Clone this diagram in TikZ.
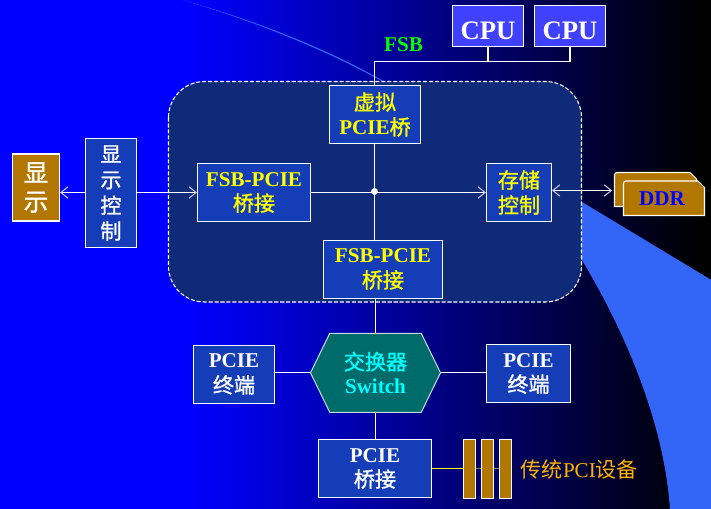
\documentclass[tikz,border=0pt]{standalone}
\usepackage{fontspec}
\setmainfont{Liberation Serif}
\newfontfamily\cjk[BoldFont={Noto Sans CJK SC},BoldFeatures={FakeBold=1.2}]{Noto Sans CJK SC}
\usetikzlibrary{arrows.meta,shapes.symbols}
\definecolor{boxblue}{RGB}{21,61,184}
\definecolor{corebox}{RGB}{15,42,120}
\definecolor{cpublue}{RGB}{64,64,255}
\definecolor{wing}{RGB}{51,102,246}
\definecolor{gold}{RGB}{178,119,0}
\definecolor{teal2}{RGB}{0,107,107}
\definecolor{pcitext}{RGB}{255,180,0}
\definecolor{olive2}{RGB}{125,125,60}
\definecolor{swcyan}{RGB}{0,255,255}
\definecolor{ylw}{RGB}{255,255,0}
\definecolor{tipgrey}{RGB}{205,205,235}
\tikzset{
  sz/.style 2 args={minimum width=#1*0.02cm,minimum height=#2*0.02cm},
  bx/.style={draw=white,line width=0.6pt,fill=boxblue,align=center,inner sep=0pt,
    execute at begin node={\rule{0pt}{15.5pt}},
    font=\bfseries\fontsize{12}{14.2}\selectfont},
  ybx/.style={bx,text=ylw},
  wbx/.style={bx,text=white},
  cpubx/.style={bx,fill=cpublue,text=white,execute at begin node={},font=\bfseries\fontsize{15.2}{18}\selectfont},
  goldbx/.style={draw=white,line width=0.6pt,fill=gold,inner sep=0pt},
  wire/.style={draw=white,line width=0.6pt}
}
\begin{document}
\begin{tikzpicture}[x=0.02cm,y=-0.02cm,>={Straight Barb[length=4pt,width=6.4pt,color=tipgrey]}]
 	\useasboundingbox (0,0) rectangle (711,508);
 	\fill[blue] (-2,-2) rectangle (190,510);
 	\shade[left color=blue,right color=black] (190,-2) rectangle (700,510);
 	\fill[black] (700,-2) rectangle (713,510);
 	\fill[wing] (183,0) .. controls (260,22) and (330,50) .. (385,82) -- (582,202)
 		.. controls (625,228) and (670,255) .. (713,281) -- (713,510) -- (670,510)
 		.. controls (665,430) and (630,340) .. (582,260) -- (385,83)
 		.. controls (330,52) and (260,23) .. (183,0) -- cycle;
 	\draw[white,line width=0.6pt,dash pattern=on 2.3pt off 1.1pt,fill=corebox,rounded corners=0.72cm]
 		(168.5,81.5) rectangle (581.5,302);
 	% cpu side
 	\node[cpubx,sz={71}{41}] (cpu1) at (488,26){CPU};
 	\node[cpubx,sz={71}{41}] (cpu2) at (570,26){CPU};
 	\node[text=green,font=\bfseries\fontsize{12}{14}\selectfont] (fsb) at (403.5,45){FSB};
 	\node[ybx,sz={91}{58}] (vbr) at (375,114.5){{\cjk 虚拟}\\PCIE{\cjk 桥}};
 	\node[ybx,sz={113}{58}] (fsbl) at (254,192.5){FSB-PCIE\\{\cjk 桥接}};
 	\node[ybx,sz={65}{58}] (mem) at (519,192.5){{\cjk 存储}\\{\cjk 控制}};
 	\node[ybx,sz={119}{58}] (fsbd) at (383,269.3){FSB-PCIE\\{\cjk 桥接}};
 	\node[wbx,sz={51}{109},font=\bfseries\fontsize{12}{14.6}\selectfont] (dctl) at (111,193){{\cjk 显}\\{\cjk 示}\\{\cjk 控}\\{\cjk 制}};
 	\node[goldbx,sz={47}{67},text=white,align=center,font=\bfseries\fontsize{14}{16.4}\selectfont,
 		execute at begin node={\rule{0pt}{17pt}}] (dsp) at (36,187.5){{\cjk 显}\\{\cjk 示}};
 	\node[circle,fill=white,inner sep=0pt,minimum size=0.14cm] (hub) at (374.5,191.5){};
 	% switch
 	\node[shape=signal,signal to=east and west,signal pointer angle=128,draw=white!75!teal2,line width=0.6pt,
 		fill=teal2,text=swcyan,align=center,inner sep=0pt,sz={130}{79},
 		font=\bfseries\fontsize{12}{13.6}\selectfont] (sw) at (375.5,372.8){{\cjk 交换器}\\Switch};
 	\node[wbx,sz={81}{58}] (tl) at (234,374.3){PCIE\\{\cjk 终端}};
 	\node[wbx,sz={84}{58}] (tr) at (528.5,373.5){PCIE\\{\cjk 终端}};
 	\node[wbx,sz={113}{58}] (pb) at (375,468.5){PCIE\\{\cjk 桥接}};
 	% legacy slots
 	\node[inner sep=0pt] (s1) at (469.5,468.5){};
 	\node[inner sep=0pt] (s3) at (505.5,468.5){};
 	\draw[ylw,line width=0.6pt] (pb.east) -- (s1);
 	\draw[olive2,line width=0.6pt] (s1) -- (s3);
 	\node[goldbx,sz={12.4}{59}] (slot1) at (469.5,468.8){};
 	\node[goldbx,sz={12.4}{59}] (slot2) at (487.4,468.8){};
 	\node[goldbx,sz={12.4}{59}] (slot3) at (505.5,468.8){};
 	\node[text=pcitext,anchor=west,inner sep=0pt,font=\fontsize{12}{14}\selectfont] (pci) at (520.5,469){{\cjk 传统}PCI{\cjk 设备}};
 	% ddr
 	\fill[gold,draw=white,line width=0.6pt] (617,172.5) -- (690,172.5) -- (696.5,179) -- (696.5,206.5) -- (614.5,206.5) -- (614.5,175) .. controls (614.5,173.5) and (615.5,172.5) .. (617,172.5) -- cycle;
 	\node[inner sep=0pt,minimum size=0pt] (ddrl) at (612.5,190.5){};
 	\fill[gold,draw=white,line width=0.6pt] (626,181) -- (698,181) -- (704.5,187.5) -- (704.5,215.5) -- (623.5,215.5) -- (623.5,183.5) .. controls (623.5,182) and (624.5,181) .. (626,181) -- cycle;
 	\node[text=blue,font=\bfseries\fontsize{12}{14}\selectfont] (ddr) at (662,199){DDR};
 	% wires
 	\coordinate (bus) at (374.5,61.5);
 	\draw[wire] (bus |- vbr.north) -- (bus) -| (cpu2.south);
 	\draw[wire] (cpu1.south) -- (cpu1.south |- bus);
 	\draw[wire] (hub |- vbr.south) -- (hub) -- (hub |- fsbd.north);
 	\draw[wire,->] (fsbl.east) -- (mem.west);
 	\draw[wire,->] (dctl.east |- fsbl.west) -- (fsbl.west);
 	\draw[wire,->] (dctl.west |- fsbl.west) -- (dsp.east |- fsbl.west);
 	\draw[wire,<->] (mem.east |- ddrl) -- (ddrl);
 	\draw[wire] (sw.north) -- (sw.north |- fsbd.south);
 	\draw[wire] (sw.south) -- (sw.south |- pb.north);
 	\draw[wire] (tl.east |- sw.west) -- (sw.west);
 	\draw[wire] (sw.east) -- (tr.west |- sw.east);
\end{tikzpicture}
\end{document}
